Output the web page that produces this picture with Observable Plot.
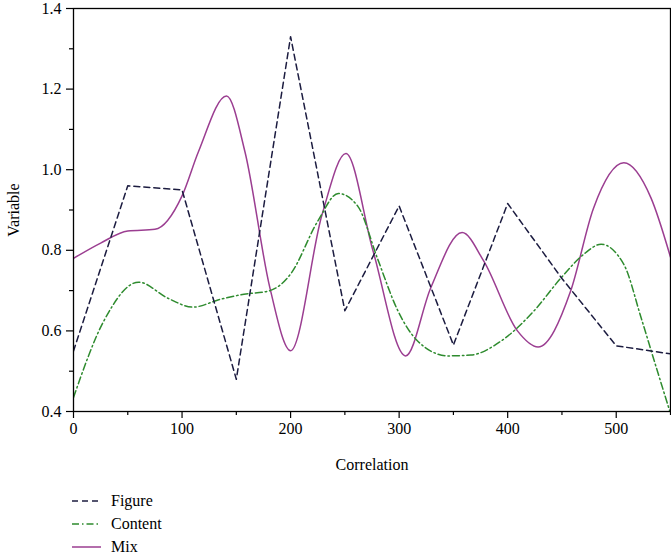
<!DOCTYPE html>
<html>
<head>
<meta charset="utf-8">
<script src="https://cdn.jsdelivr.net/npm/d3@7"></script>
<script src="https://cdn.jsdelivr.net/npm/@observablehq/plot@0.6"></script>
<style>
  html, body { margin: 0; padding: 0; background: #fff; }
  #chart { width: 671px; }
  .legend { font-family: "Liberation Serif", serif; font-size: 16px; color: #000; padding-top: 8px; }
  .row { display: flex; align-items: center; height: 23px; }
  .row svg { margin-left: 72px; margin-right: 10px; }
</style>
</head>
<body>
<div id="chart"></div>
<div class="legend" id="legend"></div>
<script>
// Figure series (dashed)
const figureX = [0, 50, 100, 150, 200, 250, 300, 350, 400, 450, 500, 550];
const figureY = [0.55, 0.96, 0.95, 0.48, 1.33, 0.65, 0.91, 0.565, 0.916, 0.73, 0.563, 0.543];

// Content series (dash-dot)
const contentX = [0, 28, 60, 87, 110, 136, 157, 181, 200, 225, 244, 262, 280, 299, 317, 345, 366, 394, 424, 449, 470, 486, 507, 523, 535, 550];
const contentY = [0.435, 0.625, 0.721, 0.681, 0.659, 0.679, 0.691, 0.70, 0.741, 0.872, 0.941, 0.909, 0.78, 0.649, 0.575, 0.538, 0.54, 0.575, 0.649, 0.731, 0.79, 0.815, 0.765, 0.632, 0.526, 0.395];

// Mix series (solid)
const mixX = [0, 25, 50, 75, 100, 115, 141, 158, 181, 200, 229, 251, 276, 306, 329, 358, 378, 409, 428, 458, 479, 507, 532, 550];
const mixY = [0.78, 0.818, 0.848, 0.852, 0.935, 1.044, 1.183, 1.044, 0.706, 0.551, 0.889, 1.04, 0.798, 0.538, 0.706, 0.844, 0.773, 0.60, 0.56, 0.699, 0.904, 1.017, 0.93, 0.783];

const seriesNames = ["Figure", "Content", "Mix"];
const seriesColors = ["#1c1c40", "#2e8b2e", "#9b3e91"];
const seriesDash = ["6,4", "7,3,1.5,3", null];

const xMajor = [0, 100, 200, 300, 400, 500];
const xMinor = [50, 150, 250, 350, 450, 550];
const yMajor = [0.4, 0.6, 0.8, 1.0, 1.2, 1.4];
const yMinor = [0.5, 0.7, 0.9, 1.1, 1.3];

const toRows = (xs, ys) => xs.map((x, i) => ({x, y: ys[i]}));
const figure = toRows(figureX, figureY);
const content = toRows(contentX, contentY);
const mix = toRows(mixX, mixY);

const chart = Plot.plot({
  width: 671,
  height: 481,
  marginLeft: 73,
  marginRight: 1,
  marginTop: 8,
  marginBottom: 70,
  style: {fontFamily: "Liberation Serif, serif", fontSize: "16px", color: "#000", background: "#fff", overflow: "visible"},
  x: {domain: [0, 550]},
  y: {domain: [0.4, 1.4]},
  marks: [
    Plot.line(mix, {x: "x", y: "y", stroke: seriesColors[2], strokeWidth: 1.5, curve: "monotone-x", clip: true}),
    Plot.line(content, {x: "x", y: "y", stroke: seriesColors[1], strokeWidth: 1.5, strokeDasharray: seriesDash[1], curve: "monotone-x", clip: true}),
    Plot.line(figure, {x: "x", y: "y", stroke: seriesColors[0], strokeWidth: 1.5, strokeDasharray: seriesDash[0], clip: true}),
    Plot.frame({stroke: "#000", strokeWidth: 1.3}),
    Plot.axisX(xMajor, {tickSize: 7, tickPadding: 4, strokeWidth: 1.2, fontSize: 16, label: "Correlation", labelAnchor: "center", labelArrow: "none", labelOffset: 58}),
    Plot.axisX(xMinor, {tickSize: 4, strokeWidth: 1.2, tickFormat: () => "", label: null}),
    Plot.axisY(yMajor, {tickSize: 7, tickPadding: 5, strokeWidth: 1.2, fontSize: 16, tickFormat: d3.format(".1f"), label: "Variable", labelAnchor: "center", labelArrow: "none", labelOffset: 66}),
    Plot.axisY(yMinor, {tickSize: 4, strokeWidth: 1.2, tickFormat: () => "", label: null})
  ]
});
document.getElementById("chart").append(chart);

const legend = document.getElementById("legend");
seriesNames.forEach((name, i) => {
  const row = document.createElement("div");
  row.className = "row";
  const dash = seriesDash[i] ? `stroke-dasharray="${seriesDash[i]}"` : "";
  row.innerHTML = `<svg width="29" height="10"><line x1="0" y1="5" x2="29" y2="5" stroke="${seriesColors[i]}" stroke-width="1.5" ${dash}/></svg><span>${name}</span>`;
  legend.append(row);
});
</script>
</body>
</html>
